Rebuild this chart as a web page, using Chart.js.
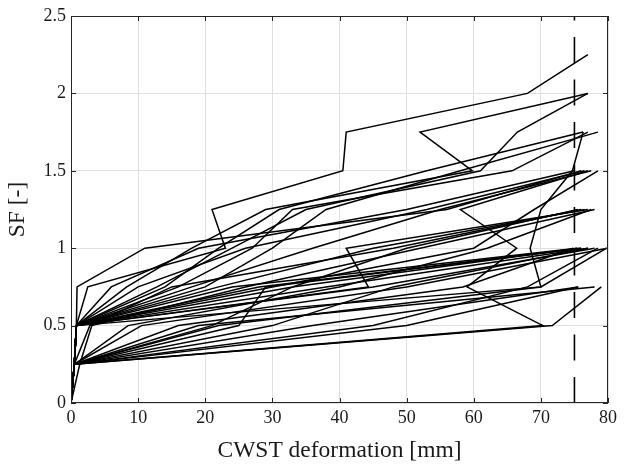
<!DOCTYPE html>
<html>
<head>
<meta charset="utf-8">
<script src="https://cdn.jsdelivr.net/npm/chart.js@4/dist/chart.umd.min.js"></script>
<style>
  html, body { margin: 0; padding: 0; background: #fff; }
</style>
</head>
<body>
<canvas id="ida" width="625" height="464"></canvas>
<script>
// SF step of the incremental analyses, one point per step
const sfSteps = [0, 0.25, 0.5, 0.75, 1.0, 1.25, 1.5, 1.75, 2.0, 2.25];

// CWST deformation [mm] of each record at each SF step
const recordDeformations = [
  [0, 0.5, 0.8, 2.5, 23, 21, 40.5, 41, 68, 77],
  [0, 0.5, 0.8, 8.3, 18, 29, 59.8, 52, 77],
  [0, 0.5, 0.8, 12.8, 24, 35, 61, 66.5, 77],
  [0, 0.5, 0.8, 14, 22, 31, 53, 76.3],
  [0, 0.5, 0.8, 16, 27, 33, 65.7, 77],
  [0, 0.5, 0.8, 20, 30, 38, 58, 78.5],
  [0, 0.5, 0.8, 70, 68.4, 70, 74.7, 76.3],
  [0, 0.5, 0.8, 0.9, 11, 56, 76],
  [0, 0.5, 0.8, 6, 19, 50, 75],
  [0, 0.5, 0.8, 10, 26, 53, 76.5],
  [0, 0.5, 0.8, 18, 36, 55, 77.5],
  [0, 0.5, 0.8, 30, 60, 69, 78.5],
  [0, 0.5, 70.3, 59, 66.4, 58, 77],
  [0, 0.5, 0.8, 44.3, 41, 77],
  [0, 0.5, 0.8, 22, 45, 76.5],
  [0, 1.3, 3.1, 26, 52, 78],
  [0, 0.5, 0.8, 33, 50, 75.5],
  [0, 0.5, 8.5, 40, 62, 77.5],
  [0, 0.5, 2.8, 15, 48, 76],
  [0, 0.5, 0.8, 24, 75.4],
  [0, 0.5, 0.8, 28, 76],
  [0, 0.5, 0.8, 38, 77],
  [0, 0.5, 0.8, 45, 78],
  [0, 0.5, 10.5, 50, 79.9],
  [0, 0.5, 16, 58.4, 74.8],
  [0, 0.5, 22, 70, 79.8],
  [0, 0.5, 25, 29, 76],
  [0, 0.5, 21, 33, 75.5],
  [0, 0.5, 45, 68, 78.5],
  [0, 0.5, 30, 48, 77],
  [0, 0.5, 71.7, 79],
  [0, 0.5, 50, 75.5],
  [0, 0.5, 36, 75.6],
  [0, 0.5, 19, 78]
];

// deformation limit, drawn dashed over the full SF range
const limitDeformation = 75;
const limitSF = [0, 2.5];

const xTicks = [0, 10, 20, 30, 40, 50, 60, 70, 80];
const yTicks = [0, 0.5, 1, 1.5, 2, 2.5];

const curveSets = recordDeformations.map(defs => ({
  data: defs.map((d, i) => ({ x: d, y: sfSteps[i] })),
  borderColor: '#000',
  borderWidth: 1.5,
  showLine: true,
  pointRadius: 0,
  tension: 0
}));

curveSets.push({
  data: limitSF.map(sf => ({ x: limitDeformation, y: sf })),
  borderColor: '#000',
  borderWidth: 1.6,
  borderDash: [26, 16.5],
  showLine: true,
  pointRadius: 0
});

// MATLAB style box with inward ticks on all four sides
const boxTicks = {
  id: 'boxTicks',
  afterDatasetsDraw(chart) {
    const { ctx, chartArea: a, scales: { x, y } } = chart;
    ctx.save();
    ctx.strokeStyle = '#262626';
    ctx.lineWidth = 1;
    ctx.beginPath();
    xTicks.forEach(v => {
      const px = Math.round(x.getPixelForValue(v)) + 0.5;
      ctx.moveTo(px, a.bottom); ctx.lineTo(px, a.bottom - 5);
      ctx.moveTo(px, a.top); ctx.lineTo(px, a.top + 5);
    });
    yTicks.forEach(v => {
      const py = Math.round(y.getPixelForValue(v)) + 0.5;
      ctx.moveTo(a.left, py); ctx.lineTo(a.left + 5, py);
      ctx.moveTo(a.right, py); ctx.lineTo(a.right - 5, py);
    });
    ctx.stroke();
    ctx.strokeRect(Math.round(a.left) + 0.5, Math.round(a.top) + 0.5,
      Math.round(a.width) - 1, Math.round(a.height) - 1);
    ctx.restore();
  }
};

const serif = 'Liberation Serif, Times New Roman, serif';

new Chart(document.getElementById('ida'), {
  type: 'scatter',
  data: { datasets: curveSets },
  options: {
    responsive: false,
    animation: false,
    devicePixelRatio: 1,
    layout: { padding: { top: 16, right: 17, bottom: 0, left: 0 } },
    plugins: { legend: { display: false }, tooltip: { enabled: false } },
    scales: {
      x: {
        type: 'linear',
        min: 0,
        max: 80,
        afterFit: s => { s.height = 61; },
        afterBuildTicks: s => { s.ticks = xTicks.map(v => ({ value: v })); },
        ticks: { color: '#1a1a1a', padding: 4, maxRotation: 0, font: { family: serif, size: 18 } },
        grid: { color: '#e0e0e0', lineWidth: 1, drawTicks: false },
        border: { display: false },
        title: {
          display: true,
          text: 'CWST deformation [mm]',
          color: '#1a1a1a',
          font: { family: serif, size: 23.5 },
          padding: { top: 0, bottom: -1 }
        }
      },
      y: {
        min: 0,
        max: 2.5,
        afterFit: s => { s.width = 71; },
        afterBuildTicks: s => { s.ticks = yTicks.map(v => ({ value: v })); },
        ticks: {
          color: '#1a1a1a',
          padding: 5,
          font: { family: serif, size: 18 },
          callback: v => String(v)
        },
        grid: { color: '#e0e0e0', lineWidth: 1, drawTicks: false },
        border: { display: false },
        title: {
          display: true,
          text: 'SF [-]',
          color: '#1a1a1a',
          font: { family: serif, size: 23.5 },
          padding: { top: 4, bottom: 0 }
        }
      }
    }
  },
  plugins: [boxTicks]
});
</script>
</body>
</html>
